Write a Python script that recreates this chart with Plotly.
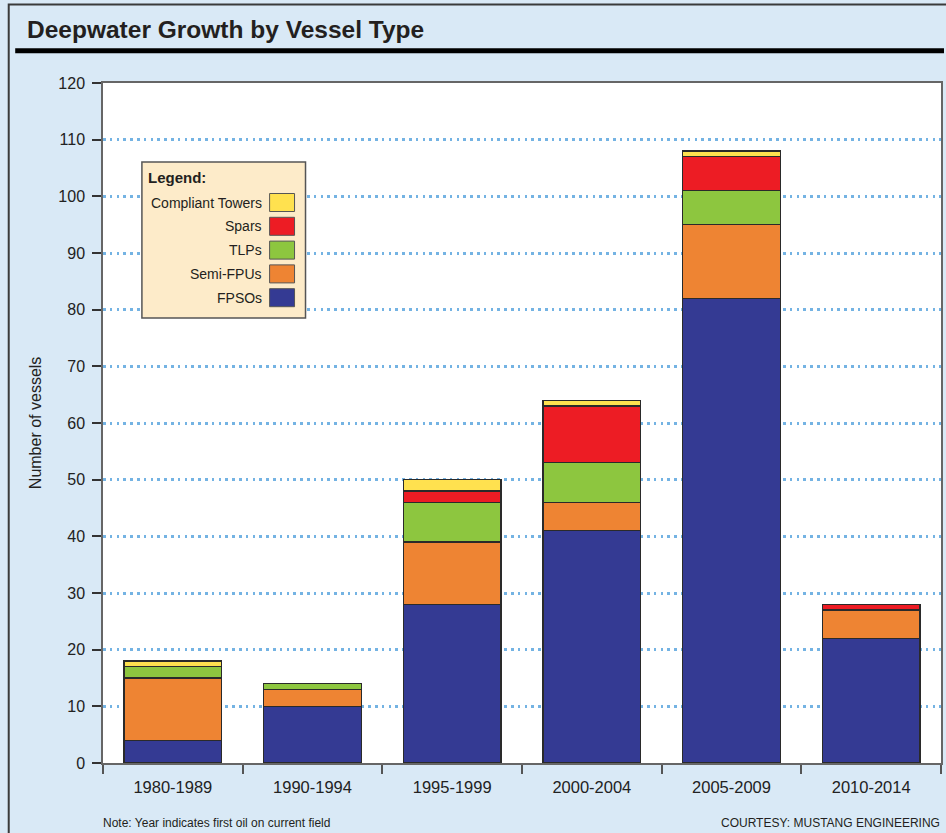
import plotly.graph_objects as go

# ---- data ----
periods = ["1980-1989", "1990-1994", "1995-1999", "2000-2004", "2005-2009", "2010-2014"]
fpsos = [4, 10, 28, 41, 82, 22]
semi_fpus = [11, 3, 11, 5, 13, 5]
tlps = [2, 1, 7, 7, 6, 0]
spars = [0, 0, 2, 10, 6, 1]
compliant_towers = [1, 0, 2, 1, 1, 0]
y_ticks = [0, 10, 20, 30, 40, 50, 60, 70, 80, 90, 100, 110, 120]

series_names = ["FPSOs", "Semi-FPUs", "TLPs", "Spars", "Compliant Towers"]
series_values = [fpsos, semi_fpus, tlps, spars, compliant_towers]
series_colors = ["#343a93", "#ee8433", "#8dc63f", "#ed1c24", "#ffe14f"]

W, H = 946, 833
L, R, T, B = 103, 943, 83, 763  # plot area in pixels
PW, PH = R - L, B - T

def px(x):
    return (x - L) / PW

def py(y):
    return (B - y) / PH

FONT = "Liberation Sans, Arial, Helvetica, sans-serif"

fig = go.Figure()
for name, vals, col in zip(series_names, series_values, series_colors):
    fig.add_trace(go.Bar(
        x=periods, y=vals, name=name,
        marker=dict(color=col, line=dict(color="#2a2a2a", width=1.5)),
        width=0.7, showlegend=False, hoverinfo="x+y+name",
    ))

fig.update_layout(
    barmode="stack",
    width=W, height=H,
    margin=dict(l=L, r=W - R, t=T, b=H - B, pad=0),
    paper_bgcolor="#d9e9f6",
    plot_bgcolor="#ffffff",
    font=dict(family=FONT, color="#222222", size=16),
    xaxis=dict(
        type="category", tickson="boundaries", ticks="outside", ticklen=9,
        tickwidth=1.5, tickcolor="#555555", showline=True, linecolor="#666666",
        linewidth=1.5, mirror=True, showgrid=False,
        tickfont=dict(family=FONT, size=16.5, color="#222222"),
        ticklabelstandoff=8,
    ),
    yaxis=dict(
        range=[0, 120], tickvals=y_ticks, ticks="outside", ticklen=9,
        tickwidth=1.5, tickcolor="#333333", showline=True, linecolor="#666666",
        linewidth=1.5, mirror=True, showgrid=True, gridcolor="#74b3e3",
        gridwidth=2.5, griddash="2.5px,4.3px", zeroline=False,
        tickfont=dict(family=FONT, size=16, color="#222222"),
        ticklabelstandoff=4,
    ),
)

shapes = []
annotations = []

# outer frame
shapes.append(dict(type="rect", xref="paper", yref="paper",
                   x0=px(8.5), x1=px(1000), y0=py(4.5), y1=py(900),
                   line=dict(color="#3a3a3a", width=2), fillcolor="rgba(0,0,0,0)", layer="below"))
# title rule
shapes.append(dict(type="line", xref="paper", yref="paper",
                   x0=px(15), x1=px(946), y0=py(50.8), y1=py(50.8),
                   line=dict(color="#000000", width=5)))
annotations.append(dict(xref="paper", yref="paper", x=px(25), y=py(29),
                        xanchor="left", yanchor="middle", showarrow=False,
                        text="<b>Deepwater Growth by Vessel Type</b>",
                        font=dict(family=FONT, size=24.5, color="#231f20")))

# y axis title
annotations.append(dict(xref="paper", yref="paper", x=px(35), y=py(423),
                        xanchor="center", yanchor="middle", showarrow=False,
                        textangle=-90, text="Number of vessels",
                        font=dict(family=FONT, size=16, color="#222222")))

# legend box
shapes.append(dict(type="rect", xref="paper", yref="paper",
                   x0=px(142), x1=px(306), y0=py(162), y1=py(318),
                   line=dict(color="#555555", width=1.5), fillcolor="#fdebc9"))
annotations.append(dict(xref="paper", yref="paper", x=px(146), y=py(178),
                        xanchor="left", yanchor="middle", showarrow=False,
                        text="<b>Legend:</b>",
                        font=dict(family=FONT, size=15, color="#231f20")))
legend_order = list(range(len(series_names)))[::-1]
for i, idx in enumerate(legend_order):
    cy = 202.5 + i * 23.8
    shapes.append(dict(type="rect", xref="paper", yref="paper",
                       x0=px(270), x1=px(295), y0=py(cy - 9), y1=py(cy + 9),
                       line=dict(color="#555555", width=1), fillcolor=series_colors[idx]))
    annotations.append(dict(xref="paper", yref="paper", x=px(264), y=py(cy),
                            xanchor="right", yanchor="middle", showarrow=False,
                            text=series_names[idx],
                            font=dict(family=FONT, size=14, color="#231f20")))

# footnotes
annotations.append(dict(xref="paper", yref="paper", x=px(101), y=py(832),
                        xanchor="left", yanchor="bottom", showarrow=False,
                        text="Note: Year indicates first oil on current field",
                        font=dict(family=FONT, size=12, color="#231f20")))
annotations.append(dict(xref="paper", yref="paper", x=px(944), y=py(832),
                        xanchor="right", yanchor="bottom", showarrow=False,
                        text="COURTESY: MUSTANG ENGINEERING",
                        font=dict(family=FONT, size=12, color="#231f20")))

fig.update_layout(shapes=shapes, annotations=annotations)
fig.write_html("out.html",
               config={"displayModeBar": False},
               post_script="document.body.style.margin='0';document.body.style.overflow='hidden';")
